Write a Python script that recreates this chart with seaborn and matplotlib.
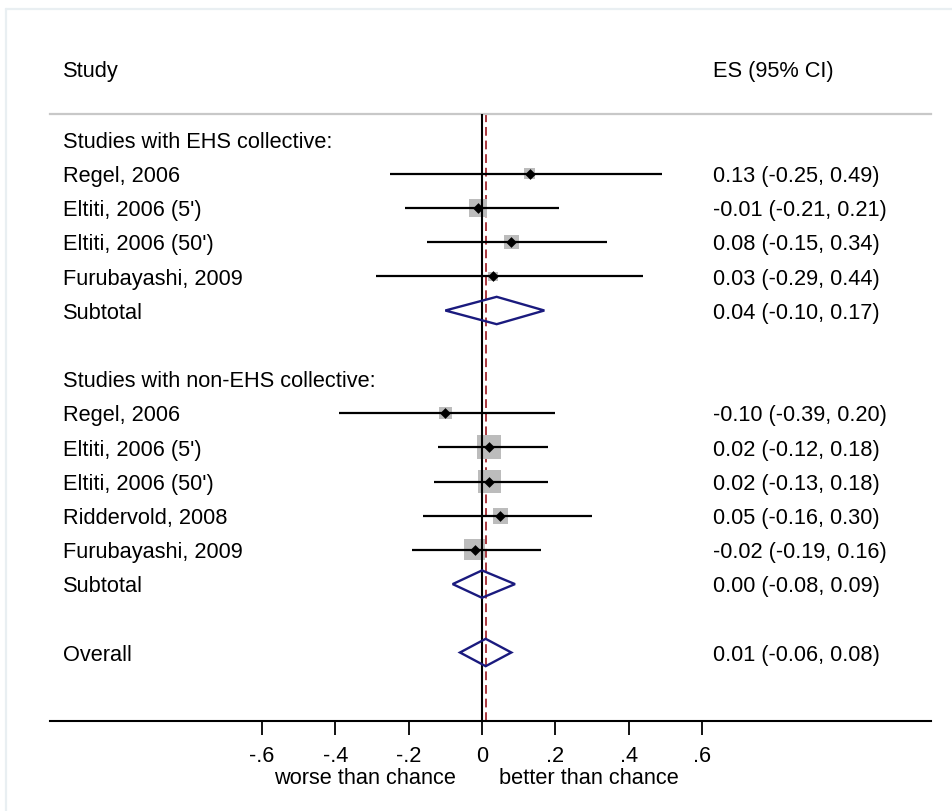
import numpy as np
import pandas as pd
import matplotlib
matplotlib.use("Agg")
import matplotlib.pyplot as plt
from matplotlib.patches import Polygon
from matplotlib.lines import Line2D
import seaborn as sns

# ---------------- data ----------------
row_labels = ["Studies with EHS collective:", "Regel, 2006", "Eltiti, 2006 (5')",
              "Eltiti, 2006 (50')", "Furubayashi, 2009", "Subtotal", "",
              "Studies with non-EHS collective:", "Regel, 2006", "Eltiti, 2006 (5')",
              "Eltiti, 2006 (50')", "Riddervold, 2008", "Furubayashi, 2009", "Subtotal",
              "", "Overall"]
row_kind = ["head", "study", "study", "study", "study", "sub", "blank",
            "head", "study", "study", "study", "study", "study", "sub",
            "blank", "sub"]
es = [np.nan, 0.13, -0.01, 0.08, 0.03, 0.04, np.nan,
      np.nan, -0.10, 0.02, 0.02, 0.05, -0.02, 0.00, np.nan, 0.01]
lo = [np.nan, -0.25, -0.21, -0.15, -0.29, -0.10, np.nan,
      np.nan, -0.39, -0.12, -0.13, -0.16, -0.19, -0.08, np.nan, -0.06]
hi = [np.nan, 0.49, 0.21, 0.34, 0.44, 0.17, np.nan,
      np.nan, 0.20, 0.18, 0.18, 0.30, 0.16, 0.09, np.nan, 0.08]
weights = [np.nan, 4.1, 11.8, 8.0, 3.3, np.nan, np.nan,
           np.nan, 5.9, 21.6, 19.8, 9.2, 16.3, np.nan, np.nan, np.nan]
tick_values = [-0.6, -0.4, -0.2, 0, 0.2, 0.4, 0.6]
tick_labels = ["-.6", "-.4", "-.2", "0", ".2", ".4", ".6"]
overall_es = 0.01
header_left = "Study"
header_right = "ES (95% CI)"
left_note = "worse than chance"
right_note = "better than chance"

df = pd.DataFrame({"label": row_labels, "kind": row_kind, "es": es,
                   "lo": lo, "hi": hi, "w": weights})
df["row"] = np.arange(len(df))

# ---------------- style ----------------
sns.set_theme(style="white")
plt.rcParams["font.family"] = ["Liberation Sans", "DejaVu Sans"]
plt.rcParams["text.color"] = "black"
plt.rcParams["xtick.color"] = "black"
FS = 15.7
NAVY = "#1a1a7e"
BOXGRAY = "#bcbcbc"
RED = "#a8383f"

W, H, DPI = 952, 811, 100
fig = plt.figure(figsize=(W / DPI, H / DPI), dpi=DPI)
fig.patch.set_facecolor("white")

# light graph-region border (top & left)
fig.add_artist(Line2D([5.5 / W, 5.5 / W], [0, 1 - 8.5 / H], color="#e9eff2", lw=1.6))
fig.add_artist(Line2D([5.5 / W, 1], [1 - 8.5 / H, 1 - 8.5 / H], color="#e9eff2", lw=1.6))

ax_left, ax_right, ax_top, ax_bot = 50, 931, 114, 721
ax = fig.add_axes([ax_left / W, 1 - ax_bot / H, (ax_right - ax_left) / W, (ax_bot - ax_top) / H])
ax.set_facecolor("white")

x0, scale = 482, 366.67
row0, rstep = 139.5, 34.2
ax.set_xlim((ax_left - x0) / scale, (ax_right - x0) / scale)
ax.set_ylim((ax_bot - row0) / rstep, (ax_top - row0) / rstep)

for s in ["left", "right"]:
    ax.spines[s].set_visible(False)
ax.spines["top"].set_color("#c8c8c8")
ax.spines["top"].set_linewidth(1.6)
ax.spines["bottom"].set_color("black")
ax.spines["bottom"].set_linewidth(1.5)

ax.set_yticks([])
ax.set_xticks(tick_values)
ax.set_xticklabels(tick_labels, fontsize=FS, color="black")
ax.tick_params(axis="x", direction="out", length=10, width=1.3, pad=8,
               color="black", bottom=True, labelcolor="black")

# reference lines
ax.axvline(0, color="black", lw=1.5, zorder=4)
ax.axvline(overall_es, color=RED, lw=1.4, ls=(0, (4.5, 2.5)), zorder=1)

studies = df[df["kind"] == "study"]
subs = df[df["kind"] == "sub"]

# weight boxes (area proportional to weight)
px_per_pt = DPI / 72
side_px = 24 * np.sqrt(studies["w"] / 21.6)
ax.scatter(studies["es"], studies["row"], s=(side_px / px_per_pt) ** 2, marker="s",
           color=BOXGRAY, edgecolor="none", zorder=2)

# confidence intervals
ax.hlines(studies["row"], studies["lo"], studies["hi"], color="black", lw=1.6, zorder=3)

# point estimates
sns.scatterplot(data=studies, x="es", y="row", marker="D", s=30, color="black",
                edgecolor="black", linewidth=0, zorder=5, ax=ax, legend=False)
ax.set_xlabel("")
ax.set_ylabel("")

# diamonds for pooled estimates
hh = 0.4
for _, r in subs.iterrows():
    poly = Polygon([[r["lo"], r["row"]], [r["es"], r["row"] - hh],
                    [r["hi"], r["row"]], [r["es"], r["row"] + hh]],
                   closed=True, fill=False, edgecolor=NAVY, lw=1.7, zorder=5)
    ax.add_patch(poly)

# text columns
xl = (63 - x0) / scale
xr = (713 - x0) / scale
ax.text(xl, -2, header_left, fontsize=FS, va="center", ha="left", clip_on=False, color="black")
ax.text(xr, -2, header_right, fontsize=FS, va="center", ha="left", clip_on=False, color="black")
for _, r in df.iterrows():
    if r["label"]:
        ax.text(xl, r["row"] + 0.08, r["label"], fontsize=FS, va="center", ha="left", color="black")
    if not np.isnan(r["es"]):
        ax.text(xr, r["row"] + 0.08, f"{r['es']:.2f} ({r['lo']:.2f}, {r['hi']:.2f})",
                fontsize=FS, va="center", ha="left", color="black")

# direction notes
ny = (779 - row0) / rstep
ax.text((365 - x0) / scale, ny, left_note, fontsize=FS, ha="center", va="center", clip_on=False, color="black")
ax.text((589 - x0) / scale, ny, right_note, fontsize=FS, ha="center", va="center", clip_on=False, color="black")

fig.savefig("out.png", dpi=DPI, facecolor="white")
